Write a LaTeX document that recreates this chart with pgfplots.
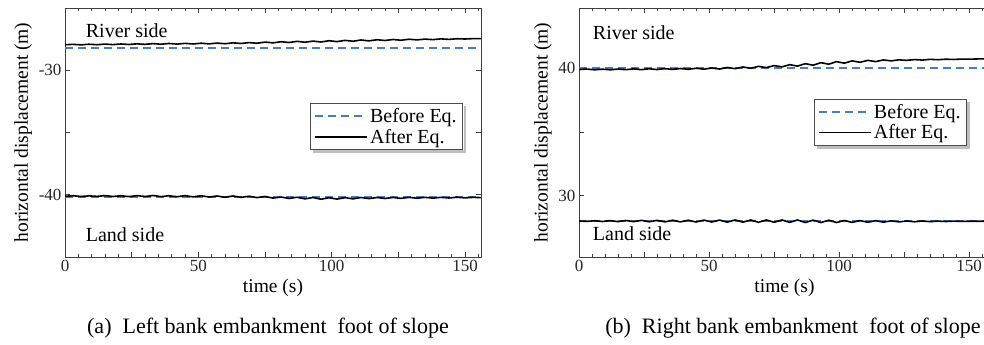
\documentclass[border=0pt]{standalone}
\usepackage{fontspec}
\setmainfont{Liberation Serif}
\usepackage{pgfplots}
\pgfplotsset{compat=1.18}
\definecolor{beforeblue}{RGB}{70,125,200}
\tikzset{
  befEq/.style={color=beforeblue, line width=2bp, dash pattern=on 8bp off 5bp},
  aftEq/.style={color=black, line width=1.6bp},
}
\pgfplotsset{
  every axis/.append style={
    scale only axis,
    height=249bp,
    axis line style={black!75, line width=0.8bp},
    tick style={black!75, line width=0.7bp},
    major tick length=5bp, minor tick length=3bp,
    tick align=inside,
    xtick={0,25,...,150}, minor xtick={0,5,...,155},
    xticklabels={0,,50,,100,,150},
    /pgf/number format/assume math mode=true,
    ticklabel style={font=\fontsize{17bp}{20bp}\selectfont, text=black!85},
    label style={font=\fontsize{19.5bp}{22bp}\selectfont},
    xlabel={time (s)},
    ylabel={horizontal displacement (m)},
    legend style={font=\fontsize{20bp}{23bp}\selectfont, draw=black!70, line width=0.8bp, fill=white, inner xsep=4bp, inner ysep=3bp, row sep=1bp, cells={anchor=west}},
    legend image code/.code={\draw[#1] (0bp,0bp) -- (52bp,0bp);},
    xmin=0,
  },
}
\begin{document}
\begin{tikzpicture}[x=1bp,y=1bp]
\useasboundingbox (0,0) rectangle (984,344);
% ---------- left panel ----------
\begin{axis}[at={(65bp,87bp)}, anchor=south west, width=416bp,
  xmax=156, ymin=-45, ymax=-25,
  ytick={-40,-35,-30}, yticklabels={-40,,-30},
  legend style={at={(0.957,0.618)}, anchor=north east, name=legL}]
\addplot[befEq] coordinates {(0,-28.18) (156,-28.18)};
\addlegendentry{Before Eq.}
\addplot[aftEq] coordinates {
(0,-27.95) (3,-27.92) (6,-27.96) (9,-27.91) (12,-27.95) (15,-27.90) (18,-27.94) (21,-27.89) (24,-27.93) (27,-27.88) (30,-27.92) (33,-27.86) (36,-27.91) (39,-27.85) (42,-27.90) (45,-27.84) (48,-27.89) (51,-27.83) (54,-27.88) (57,-27.82) (60,-27.87) (63,-27.80) (66,-27.85) (69,-27.78) (72,-27.83) (75,-27.74) (78,-27.80) (81,-27.71) (84,-27.77) (87,-27.68) (90,-27.75) (93,-27.66) (96,-27.73) (99,-27.63) (102,-27.70) (105,-27.60) (108,-27.67) (111,-27.57) (114,-27.64) (117,-27.55) (120,-27.61) (123,-27.53) (126,-27.59) (129,-27.51) (132,-27.56) (135,-27.50) (138,-27.54) (141,-27.48) (144,-27.52) (147,-27.47) (150,-27.49) (153,-27.46) (156,-27.46)};
\addlegendentry{After Eq.}
\addplot[befEq, forget plot] coordinates {(0,-40.2) (156,-40.2)};
\addplot[aftEq, forget plot] coordinates {
(0,-40.12) (3,-40.08) (6,-40.14) (9,-40.09) (12,-40.13) (15,-40.07) (18,-40.14) (21,-40.08) (24,-40.15) (27,-40.07) (30,-40.14) (33,-40.06) (36,-40.15) (39,-40.08) (42,-40.16) (45,-40.07) (48,-40.17) (51,-40.08) (54,-40.18) (57,-40.10) (60,-40.20) (63,-40.10) (66,-40.21) (69,-40.12) (72,-40.23) (75,-40.14) (78,-40.27) (81,-40.18) (84,-40.30) (87,-40.20) (90,-40.33) (93,-40.22) (96,-40.36) (99,-40.24) (102,-40.35) (105,-40.23) (108,-40.33) (111,-40.22) (114,-40.31) (117,-40.22) (120,-40.30) (123,-40.22) (126,-40.29) (129,-40.21) (132,-40.28) (135,-40.21) (138,-40.27) (141,-40.21) (144,-40.26) (147,-40.20) (150,-40.25) (153,-40.21) (156,-40.23)};
\node[anchor=west, font=\fontsize{20bp}{23bp}\selectfont] at (axis cs:6.5,-26.85) {River side};
\node[anchor=west, font=\fontsize{20bp}{23bp}\selectfont] at (axis cs:6.5,-43.2) {Land side};
\end{axis}
\fill[black, opacity=0.25] ([xshift=0.4bp,yshift=-3bp]legL.north east) rectangle ([xshift=3bp,yshift=-3bp]legL.south east);
\fill[black, opacity=0.25] ([xshift=3bp,yshift=-0.4bp]legL.south west) rectangle ([xshift=0.4bp,yshift=-3bp]legL.south east);
% ---------- right panel ----------
\begin{axis}[at={(579bp,87bp)}, anchor=south west, width=411bp,
  xmax=158, ymin=25.2, ymax=44.7,
  ytick={30,35,40}, yticklabels={30,,40},
  legend style={at={(0.944,0.635)}, anchor=north east, name=legR}]
\addplot[befEq] coordinates {(0,40.03) (158,40.03)};
\addlegendentry{Before Eq.}
\addplot[aftEq] coordinates {
(0,39.88) (3,39.92) (6,39.86) (9,39.91) (12,39.86) (15,39.92) (18,39.87) (21,39.93) (24,39.87) (27,39.94) (30,39.88) (33,39.95) (36,39.89) (39,39.96) (42,39.90) (45,39.98) (48,39.91) (51,40.00) (54,39.92) (57,40.04) (60,39.95) (63,40.08) (66,39.98) (69,40.13) (72,40.03) (75,40.19) (78,40.09) (81,40.26) (84,40.15) (87,40.34) (90,40.22) (93,40.42) (96,40.30) (99,40.50) (102,40.38) (105,40.56) (108,40.45) (111,40.60) (114,40.50) (117,40.63) (120,40.56) (123,40.64) (126,40.60) (129,40.66) (132,40.62) (135,40.68) (138,40.65) (141,40.69) (144,40.67) (147,40.70) (150,40.69) (153,40.71) (158,40.71)};
\addlegendentry{After Eq.}
\addplot[befEq, forget plot] coordinates {(0,28.05) (158,28.05)};
\addplot[aftEq, forget plot] coordinates {
(0,28.02) (3,27.99) (6,28.04) (9,27.98) (12,28.05) (15,27.97) (18,28.06) (21,27.97) (24,28.07) (27,27.96) (30,28.07) (33,27.95) (36,28.08) (39,27.95) (42,28.08) (45,27.94) (48,28.09) (51,27.94) (54,28.09) (57,27.93) (60,28.10) (63,27.93) (66,28.10) (69,27.92) (72,28.10) (75,27.92) (78,28.10) (81,27.91) (84,28.10) (87,27.90) (90,28.09) (93,27.90) (96,28.08) (99,27.90) (102,28.06) (105,27.91) (108,28.05) (111,27.92) (114,28.04) (117,27.93) (120,28.03) (123,27.95) (126,28.02) (129,27.96) (132,28.02) (135,27.97) (138,28.01) (141,27.98) (144,28.01) (147,27.99) (150,28.00) (153,28.00) (158,28.00)};
\node[anchor=west, font=\fontsize{20bp}{23bp}\selectfont] at (axis cs:4,42.8) {River side};
\node[anchor=west, font=\fontsize{20bp}{23bp}\selectfont] at (axis cs:4,27.0) {Land side};
\end{axis}
\fill[black, opacity=0.25] ([xshift=0.4bp,yshift=-3bp]legR.north east) rectangle ([xshift=3bp,yshift=-3bp]legR.south east);
\fill[black, opacity=0.25] ([xshift=3bp,yshift=-0.4bp]legR.south west) rectangle ([xshift=0.4bp,yshift=-3bp]legR.south east);
% ---------- captions ----------
\node[font=\fontsize{22bp}{26bp}\selectfont] at (268,16) {(a)\ \ Left bank embankment\ \ foot of slope};
\node[font=\fontsize{22bp}{26bp}\selectfont, anchor=east] at (984,16) {(b)\ \ Right bank embankment\ \ foot of slope};
\end{tikzpicture}
\end{document}
